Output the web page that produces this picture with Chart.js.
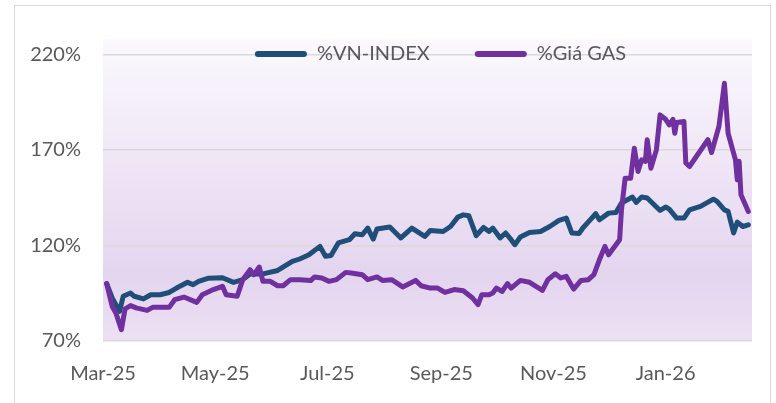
<!DOCTYPE html>
<html><head><meta charset="utf-8">
<script src="https://cdn.jsdelivr.net/npm/chart.js@4.4.1/dist/chart.umd.min.js"></script>
<style>
html,body{margin:0;padding:0;background:#fff;}
#wrap{position:relative;width:776px;height:403px;overflow:hidden;}
#frame{position:absolute;left:14px;top:5px;width:757px;height:430px;border:1px solid #d9d9d9;box-sizing:border-box;}
canvas{position:absolute;left:0;top:0;}
</style></head><body>
<div id="wrap"><div id="frame"></div><canvas id="c" width="776" height="403"></canvas></div>
<script>
// ---- data ----
const seriesNames = ['%VN-INDEX', '%Giá GAS'];

const vnDates = [
  '2025-03-03','2025-03-06','2025-03-10','2025-03-12','2025-03-16','2025-03-18','2025-03-23','2025-03-27',
  '2025-04-01','2025-04-06','2025-04-10','2025-04-16','2025-04-19','2025-04-22','2025-04-27',
  '2025-05-05','2025-05-11','2025-05-16','2025-05-20','2025-05-27',
  '2025-06-04','2025-06-12','2025-06-16','2025-06-21','2025-06-27','2025-06-30',
  '2025-07-03','2025-07-07','2025-07-13','2025-07-16','2025-07-20','2025-07-23','2025-07-26','2025-07-28',
  '2025-08-04','2025-08-10','2025-08-16','2025-08-23','2025-08-26',
  '2025-09-02','2025-09-06','2025-09-10','2025-09-13','2025-09-16','2025-09-20','2025-09-24','2025-09-27','2025-09-29',
  '2025-10-03','2025-10-06','2025-10-09','2025-10-11','2025-10-14','2025-10-19','2025-10-25','2025-10-30',
  '2025-11-04','2025-11-08','2025-11-11','2025-11-15','2025-11-17','2025-11-21','2025-11-24','2025-11-26',
  '2025-12-01','2025-12-05','2025-12-08','2025-12-14','2025-12-16','2025-12-19','2025-12-22','2025-12-29',
  '2026-01-01','2026-01-03','2026-01-07','2026-01-11','2026-01-14','2026-01-20','2026-01-27','2026-01-29',
  '2026-02-02','2026-02-04','2026-02-07','2026-02-09','2026-02-12','2026-02-15'
];
const vnValues = [
  100.0,92.5,85.5,93.4,95.1,93.4,92.0,94.2,
  94.2,95.4,97.7,100.7,99.5,101.2,102.8,
  103.1,100.7,102.1,105.1,105.1,
  106.9,111.6,112.9,115.1,119.5,114.3,
  114.7,121.3,123.0,126.1,125.6,129.1,123.3,128.6,
  129.6,123.9,129.1,124.7,127.8,
  127.3,129.9,134.8,136.0,135.5,125.1,129.4,127.3,129.1,
  123.9,126.5,123.0,120.4,124.4,126.8,127.3,129.9,
  133.1,134.3,126.5,126.3,129.1,133.4,136.6,133.4,
  136.9,137.2,142.2,145.3,142.5,145.3,144.8,138.3,
  140.1,139.0,134.3,134.3,138.6,140.4,144.2,143.0,
  138.6,137.8,126.5,132.2,129.9,130.8
];

const gasDates = [
  '2025-03-03','2025-03-06','2025-03-08','2025-03-11','2025-03-13','2025-03-16','2025-03-19','2025-03-25','2025-03-28',
  '2025-04-06','2025-04-09','2025-04-14','2025-04-21','2025-04-24','2025-04-30',
  '2025-05-05','2025-05-07','2025-05-13','2025-05-16','2025-05-20','2025-05-22','2025-05-25','2025-05-27','2025-05-31',
  '2025-06-04','2025-06-07','2025-06-11','2025-06-16','2025-06-22','2025-06-24','2025-06-28',
  '2025-07-02','2025-07-06','2025-07-11','2025-07-14','2025-07-20','2025-07-23','2025-07-28','2025-07-31',
  '2025-08-05','2025-08-11','2025-08-18','2025-08-21','2025-08-26','2025-08-30',
  '2025-09-03','2025-09-08','2025-09-13','2025-09-18','2025-09-21','2025-09-23','2025-09-27','2025-09-29',
  '2025-10-01','2025-10-04','2025-10-07','2025-10-09','2025-10-14','2025-10-19','2025-10-26','2025-10-29',
  '2025-11-02','2025-11-05','2025-11-08','2025-11-12','2025-11-16','2025-11-20','2025-11-23','2025-11-26','2025-11-29',
  '2025-12-01','2025-12-07','2025-12-08','2025-12-10','2025-12-13','2025-12-15','2025-12-17','2025-12-19','2025-12-21','2025-12-22','2025-12-24','2025-12-27','2025-12-29',
  '2026-01-01','2026-01-03','2026-01-05','2026-01-06','2026-01-07','2026-01-11','2026-01-12','2026-01-14','2026-01-24','2026-01-26','2026-01-30',
  '2026-02-02','2026-02-04','2026-02-08','2026-02-09','2026-02-10','2026-02-11','2026-02-15'
];
const gasValues = [
  100.0,88.1,84.7,75.9,86.8,88.5,87.3,86.0,87.6,
  87.6,91.6,93.0,90.2,94.2,96.9,
  98.6,94.2,93.4,102.1,107.3,104.7,108.7,101.2,101.2,
  98.9,98.9,102.1,102.1,101.6,103.5,103.0,
  101.2,102.1,105.9,105.6,104.7,102.1,103.5,101.7,
  102.1,98.3,101.7,98.9,97.7,97.7,
  95.4,96.9,96.3,92.5,89.0,94.2,94.2,95.1,
  97.7,95.9,100.0,97.7,101.7,100.7,96.5,102.1,
  105.2,103.0,103.8,97.2,101.7,102.1,104.7,112.5,119.5,
  115.1,123.0,138.6,155.2,155.2,170.9,158.7,164.8,164.0,175.3,160.4,170.0,188.3,
  186.0,183.1,186.0,178.7,184.3,184.8,163.1,161.3,175.3,168.6,182.2,
  204.8,178.7,164.8,154.3,164.0,146.5,137.8
];

const yTicks = [70, 120, 170, 220];
const xTickDates = ['2025-03-01','2025-05-01','2025-07-01','2025-09-01','2025-11-01','2026-01-01'];
const xTickLabels = ['Mar-25','May-25','Jul-25','Sep-25','Nov-25','Jan-26'];
const xEndDate = '2026-02-17';

// ---- helpers ----
const ORIGIN = Date.UTC(2025, 2, 1);
function dayOf(s) {
  const p = s.split('-').map(Number);
  return Math.round((Date.UTC(p[0], p[1] - 1, p[2]) - ORIGIN) / 86400000);
}
const toPoints = (dates, vals) => dates.map((d, i) => ({ x: dayOf(d), y: vals[i] }));
const xTickDays = xTickDates.map(dayOf);

const FONT = { family: 'Lato, "Open Sans", sans-serif', size: 20 };
const TXT = '#595959';
const GRID = '#d9d9d9';

const plotBg = {
  id: 'plotBg',
  beforeDraw(chart) {
    const { ctx, chartArea: a } = chart;
    const g = ctx.createLinearGradient(0, a.top, 0, a.bottom);
    g.addColorStop(0, '#fbf9fd');
    g.addColorStop(0.4, '#efe6f6');
    g.addColorStop(0.78, '#e4d5ef');
    g.addColorStop(1, '#ebe0f3');
    ctx.save();
    ctx.fillStyle = g;
    ctx.fillRect(a.left, a.top, a.right - a.left, a.bottom - a.top);
    ctx.restore();
  }
};

// legend overlaid on the plot area, laid out in one row
const legendPos = {
  id: 'legendPos',
  beforeLayout(chart) {
    const lg = chart.legend;
    if (lg && !lg._rowPatched) {
      lg.isHorizontal = () => true;
      lg._rowPatched = true;
    }
  },
  afterLayout(chart) {
    const lg = chart.legend;
    if (!lg) return;
    const a = chart.chartArea;
    lg.width = a.right - a.left;
    lg.left = a.left + 13;
    lg.right = a.right + 13;
    lg.top = 44 - lg.options.labels.padding;
  }
};

new Chart(document.getElementById('c'), {
  type: 'line',
  data: {
    datasets: [
      {
        label: seriesNames[0],
        data: toPoints(vnDates, vnValues),
        borderColor: '#1f4e79',
        backgroundColor: '#1f4e79',
        borderWidth: 5,
        pointRadius: 0,
        tension: 0,
        borderJoinStyle: 'round',
        borderCapStyle: 'round',
        order: 1
      },
      {
        label: seriesNames[1],
        data: toPoints(gasDates, gasValues),
        borderColor: '#7030a0',
        backgroundColor: '#7030a0',
        borderWidth: 5,
        pointRadius: 0,
        tension: 0,
        borderJoinStyle: 'round',
        borderCapStyle: 'round',
        order: 0
      }
    ]
  },
  options: {
    responsive: false,
    animation: false,
    layout: { padding: { left: 27, top: 39, right: 24, bottom: 0 } },
    plugins: {
      tooltip: { enabled: false },
      legend: {
        position: 'chartArea',
        align: 'center',
        labels: {
          font: FONT,
          color: TXT,
          boxWidth: 52,
          boxHeight: 6,
          padding: 45,
          generateLabels(chart) {
            return chart.data.datasets.map((ds, i) => ({
              text: ds.label,
              fillStyle: ds.borderColor,
              strokeStyle: ds.borderColor,
              lineWidth: 0,
              hidden: false,
              datasetIndex: i,
              borderRadius: 3,
              fontColor: TXT
            }));
          }
        }
      }
    },
    scales: {
      x: {
        type: 'linear',
        min: 0,
        max: dayOf(xEndDate),
        afterBuildTicks(scale) { scale.ticks = xTickDays.map(v => ({ value: v })); },
        afterFit(scale) { scale.height = 62; },
        grid: { display: false },
        border: { display: false },
        ticks: {
          font: FONT,
          color: TXT,
          padding: 13,
          maxRotation: 0,
          autoSkip: false,
          callback: (v) => { const i = xTickDays.indexOf(v); return i >= 0 ? xTickLabels[i] : ''; }
        }
      },
      y: {
        min: 70,
        max: 228,
        afterBuildTicks(scale) { scale.ticks = yTicks.map(v => ({ value: v })); },
        afterFit(scale) { scale.width = 76; },
        grid: { color: GRID, lineWidth: 1.5, drawTicks: false },
        border: { display: false },
        ticks: {
          font: FONT,
          color: TXT,
          padding: 22,
          callback: (v) => v + '%'
        }
      }
    }
  },
  plugins: [plotBg, legendPos]
});
</script>
</body></html>
